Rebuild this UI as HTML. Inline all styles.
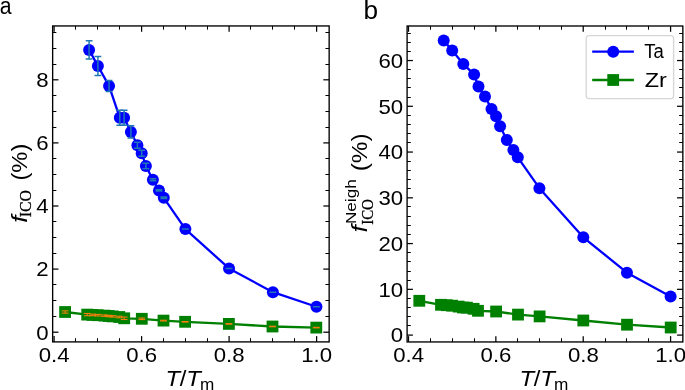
<!DOCTYPE html><html><head><meta charset="utf-8"><style>html,body{margin:0;padding:0;background:#fff;overflow:hidden;}svg{display:block;will-change:transform;}</style></head><body><svg width="685" height="390" viewBox="0 0 685 390">
<rect width="685" height="390" fill="#fff"/>
<defs><clipPath id="cl"><rect x="52.65" y="25.95" width="276.50" height="315.95"/></clipPath><clipPath id="cr"><rect x="407.1" y="26.0" width="275.75" height="315.95"/></clipPath></defs>
<g clip-path="url(#cl)">
<path d="M89.10,49.90 L97.90,66.00 L109.05,85.90 L119.80,117.80 L124.10,117.80 L130.90,131.90 L137.40,145.30 L141.70,153.20 L145.90,166.00 L152.90,179.80 L159.00,190.40 L163.80,197.80 L185.40,229.10 L229.05,268.45 L272.90,292.20 L316.45,306.75" fill="none" stroke="#0000ff" stroke-width="2.3" stroke-linejoin="round" stroke-linecap="butt"/>
<circle cx="89.10" cy="49.90" r="6.0" fill="#0000ff"/>
<circle cx="97.90" cy="66.00" r="6.0" fill="#0000ff"/>
<circle cx="109.05" cy="85.90" r="6.0" fill="#0000ff"/>
<circle cx="119.80" cy="117.80" r="6.0" fill="#0000ff"/>
<circle cx="124.10" cy="117.80" r="6.0" fill="#0000ff"/>
<circle cx="130.90" cy="131.90" r="6.0" fill="#0000ff"/>
<circle cx="137.40" cy="145.30" r="6.0" fill="#0000ff"/>
<circle cx="141.70" cy="153.20" r="6.0" fill="#0000ff"/>
<circle cx="145.90" cy="166.00" r="6.0" fill="#0000ff"/>
<circle cx="152.90" cy="179.80" r="6.0" fill="#0000ff"/>
<circle cx="159.00" cy="190.40" r="6.0" fill="#0000ff"/>
<circle cx="163.80" cy="197.80" r="6.0" fill="#0000ff"/>
<circle cx="185.40" cy="229.10" r="6.0" fill="#0000ff"/>
<circle cx="229.05" cy="268.45" r="6.0" fill="#0000ff"/>
<circle cx="272.90" cy="292.20" r="6.0" fill="#0000ff"/>
<circle cx="316.45" cy="306.75" r="6.0" fill="#0000ff"/>
<path d="M89.10,40.80V59.00M85.70,40.80H92.50M85.70,59.00H92.50" stroke="#1f77b4" stroke-width="1.5" fill="none"/>
<path d="M97.90,56.60V75.40M94.50,56.60H101.30M94.50,75.40H101.30" stroke="#1f77b4" stroke-width="1.5" fill="none"/>
<path d="M109.05,80.40V91.40M105.65,80.40H112.45M105.65,91.40H112.45" stroke="#1f77b4" stroke-width="1.5" fill="none"/>
<path d="M119.80,110.30V125.30M116.40,110.30H123.20M116.40,125.30H123.20" stroke="#1f77b4" stroke-width="1.5" fill="none"/>
<path d="M124.10,110.30V125.30M120.70,110.30H127.50M120.70,125.30H127.50" stroke="#1f77b4" stroke-width="1.5" fill="none"/>
<path d="M130.90,125.70V138.10M127.50,125.70H134.30M127.50,138.10H134.30" stroke="#1f77b4" stroke-width="1.5" fill="none"/>
<path d="M137.40,142.30V148.30M134.00,142.30H140.80M134.00,148.30H140.80" stroke="#1f77b4" stroke-width="1.5" fill="none"/>
<path d="M141.70,150.20V156.20M138.30,150.20H145.10M138.30,156.20H145.10" stroke="#1f77b4" stroke-width="1.5" fill="none"/>
<path d="M145.90,163.20V168.80M142.50,163.20H149.30M142.50,168.80H149.30" stroke="#1f77b4" stroke-width="1.5" fill="none"/>
<path d="M152.90,178.80V180.80M149.50,178.80H156.30M149.50,180.80H156.30" stroke="#1f77b4" stroke-width="1.5" fill="none"/>
<path d="M159.00,189.70V191.10M155.60,189.70H162.40M155.60,191.10H162.40" stroke="#1f77b4" stroke-width="1.5" fill="none"/>
<path d="M163.80,197.10V198.50M160.40,197.10H167.20M160.40,198.50H167.20" stroke="#1f77b4" stroke-width="1.5" fill="none"/>
<path d="M185.40,229.10V229.10M182.00,229.10H188.80M182.00,229.10H188.80" stroke="#1f77b4" stroke-width="1.5" fill="none"/>
<path d="M229.05,268.45V268.45M225.65,268.45H232.45M225.65,268.45H232.45" stroke="#1f77b4" stroke-width="1.5" fill="none"/>
<path d="M272.90,292.20V292.20M269.50,292.20H276.30M269.50,292.20H276.30" stroke="#1f77b4" stroke-width="1.5" fill="none"/>
<path d="M316.45,306.75V306.75M313.05,306.75H319.85M313.05,306.75H319.85" stroke="#1f77b4" stroke-width="1.5" fill="none"/>
<path d="M65.10,312.00 L87.20,314.60 L92.50,314.90 L97.70,315.20 L104.40,315.60 L108.70,316.00 L112.70,316.40 L119.30,317.00 L124.20,318.30 L141.80,318.80 L163.50,320.60 L185.10,321.80 L228.90,323.90 L272.50,326.50 L316.30,327.60" fill="none" stroke="#008000" stroke-width="2.3" stroke-linejoin="round" stroke-linecap="butt"/>
<rect x="59.20" y="306.10" width="11.8" height="11.8" fill="#008000"/>
<rect x="81.30" y="308.70" width="11.8" height="11.8" fill="#008000"/>
<rect x="86.60" y="309.00" width="11.8" height="11.8" fill="#008000"/>
<rect x="91.80" y="309.30" width="11.8" height="11.8" fill="#008000"/>
<rect x="98.50" y="309.70" width="11.8" height="11.8" fill="#008000"/>
<rect x="102.80" y="310.10" width="11.8" height="11.8" fill="#008000"/>
<rect x="106.80" y="310.50" width="11.8" height="11.8" fill="#008000"/>
<rect x="113.40" y="311.10" width="11.8" height="11.8" fill="#008000"/>
<rect x="118.30" y="312.40" width="11.8" height="11.8" fill="#008000"/>
<rect x="135.90" y="312.90" width="11.8" height="11.8" fill="#008000"/>
<rect x="157.60" y="314.70" width="11.8" height="11.8" fill="#008000"/>
<rect x="179.20" y="315.90" width="11.8" height="11.8" fill="#008000"/>
<rect x="223.00" y="318.00" width="11.8" height="11.8" fill="#008000"/>
<rect x="266.60" y="320.60" width="11.8" height="11.8" fill="#008000"/>
<rect x="310.40" y="321.70" width="11.8" height="11.8" fill="#008000"/>
<path d="M65.10,310.85V313.15M61.70,310.85H68.50M61.70,313.15H68.50" stroke="#ff7f0e" stroke-width="1.0" fill="none"/>
<path d="M87.20,313.45V315.75M83.80,313.45H90.60M83.80,315.75H90.60" stroke="#ff7f0e" stroke-width="1.0" fill="none"/>
<path d="M92.50,314.10V315.70M89.10,314.10H95.90M89.10,315.70H95.90" stroke="#ff7f0e" stroke-width="1.0" fill="none"/>
<path d="M97.70,314.40V316.00M94.30,314.40H101.10M94.30,316.00H101.10" stroke="#ff7f0e" stroke-width="1.0" fill="none"/>
<path d="M104.40,314.90V316.30M101.00,314.90H107.80M101.00,316.30H107.80" stroke="#ff7f0e" stroke-width="1.0" fill="none"/>
<path d="M108.70,315.30V316.70M105.30,315.30H112.10M105.30,316.70H112.10" stroke="#ff7f0e" stroke-width="1.0" fill="none"/>
<path d="M112.70,315.70V317.10M109.30,315.70H116.10M109.30,317.10H116.10" stroke="#ff7f0e" stroke-width="1.0" fill="none"/>
<path d="M119.30,316.20V317.80M115.90,316.20H122.70M115.90,317.80H122.70" stroke="#ff7f0e" stroke-width="1.0" fill="none"/>
<path d="M124.20,317.05V319.55M120.80,317.05H127.60M120.80,319.55H127.60" stroke="#ff7f0e" stroke-width="1.0" fill="none"/>
<path d="M141.80,318.00V319.60M138.40,318.00H145.20M138.40,319.60H145.20" stroke="#ff7f0e" stroke-width="1.0" fill="none"/>
<path d="M163.50,320.20V321.00M160.10,320.20H166.90M160.10,321.00H166.90" stroke="#ff7f0e" stroke-width="1.0" fill="none"/>
<path d="M185.10,321.50V322.10M181.70,321.50H188.50M181.70,322.10H188.50" stroke="#ff7f0e" stroke-width="1.0" fill="none"/>
<path d="M228.90,323.60V324.20M225.50,323.60H232.30M225.50,324.20H232.30" stroke="#ff7f0e" stroke-width="1.0" fill="none"/>
<path d="M272.50,326.20V326.80M269.10,326.20H275.90M269.10,326.80H275.90" stroke="#ff7f0e" stroke-width="1.0" fill="none"/>
<path d="M316.30,327.30V327.90M312.90,327.30H319.70M312.90,327.90H319.70" stroke="#ff7f0e" stroke-width="1.0" fill="none"/>
</g>
<g clip-path="url(#cr)">
<path d="M443.70,40.40 L452.20,50.40 L463.30,63.90 L474.10,74.60 L478.50,86.50 L485.00,96.60 L491.50,108.90 L496.10,116.30 L500.10,126.30 L506.80,140.00 L513.40,150.00 L517.80,157.30 L539.40,188.20 L583.30,237.30 L626.95,272.70 L670.60,296.40" fill="none" stroke="#0000ff" stroke-width="2.3" stroke-linejoin="round" stroke-linecap="butt"/>
<circle cx="443.70" cy="40.40" r="6.0" fill="#0000ff"/>
<circle cx="452.20" cy="50.40" r="6.0" fill="#0000ff"/>
<circle cx="463.30" cy="63.90" r="6.0" fill="#0000ff"/>
<circle cx="474.10" cy="74.60" r="6.0" fill="#0000ff"/>
<circle cx="478.50" cy="86.50" r="6.0" fill="#0000ff"/>
<circle cx="485.00" cy="96.60" r="6.0" fill="#0000ff"/>
<circle cx="491.50" cy="108.90" r="6.0" fill="#0000ff"/>
<circle cx="496.10" cy="116.30" r="6.0" fill="#0000ff"/>
<circle cx="500.10" cy="126.30" r="6.0" fill="#0000ff"/>
<circle cx="506.80" cy="140.00" r="6.0" fill="#0000ff"/>
<circle cx="513.40" cy="150.00" r="6.0" fill="#0000ff"/>
<circle cx="517.80" cy="157.30" r="6.0" fill="#0000ff"/>
<circle cx="539.40" cy="188.20" r="6.0" fill="#0000ff"/>
<circle cx="583.30" cy="237.30" r="6.0" fill="#0000ff"/>
<circle cx="626.95" cy="272.70" r="6.0" fill="#0000ff"/>
<circle cx="670.60" cy="296.40" r="6.0" fill="#0000ff"/>
<path d="M419.30,300.80 L441.00,304.80 L446.80,305.20 L452.10,305.70 L458.70,306.60 L463.00,307.50 L467.00,307.70 L473.60,308.80 L478.00,310.80 L496.10,311.50 L518.00,314.60 L539.60,316.40 L583.30,320.50 L627.00,324.70 L670.70,327.50" fill="none" stroke="#008000" stroke-width="2.3" stroke-linejoin="round" stroke-linecap="butt"/>
<rect x="413.40" y="294.90" width="11.8" height="11.8" fill="#008000"/>
<rect x="435.10" y="298.90" width="11.8" height="11.8" fill="#008000"/>
<rect x="440.90" y="299.30" width="11.8" height="11.8" fill="#008000"/>
<rect x="446.20" y="299.80" width="11.8" height="11.8" fill="#008000"/>
<rect x="452.80" y="300.70" width="11.8" height="11.8" fill="#008000"/>
<rect x="457.10" y="301.60" width="11.8" height="11.8" fill="#008000"/>
<rect x="461.10" y="301.80" width="11.8" height="11.8" fill="#008000"/>
<rect x="467.70" y="302.90" width="11.8" height="11.8" fill="#008000"/>
<rect x="472.10" y="304.90" width="11.8" height="11.8" fill="#008000"/>
<rect x="490.20" y="305.60" width="11.8" height="11.8" fill="#008000"/>
<rect x="512.10" y="308.70" width="11.8" height="11.8" fill="#008000"/>
<rect x="533.70" y="310.50" width="11.8" height="11.8" fill="#008000"/>
<rect x="577.40" y="314.60" width="11.8" height="11.8" fill="#008000"/>
<rect x="621.10" y="318.80" width="11.8" height="11.8" fill="#008000"/>
<rect x="664.80" y="321.60" width="11.8" height="11.8" fill="#008000"/>
</g>
<line x1="54.10" y1="341.90" x2="54.10" y2="336.10" stroke="#000" stroke-width="1.25"/>
<line x1="54.10" y1="25.95" x2="54.10" y2="31.75" stroke="#000" stroke-width="1.25"/>
<line x1="141.60" y1="341.90" x2="141.60" y2="336.10" stroke="#000" stroke-width="1.25"/>
<line x1="141.60" y1="25.95" x2="141.60" y2="31.75" stroke="#000" stroke-width="1.25"/>
<line x1="229.10" y1="341.90" x2="229.10" y2="336.10" stroke="#000" stroke-width="1.25"/>
<line x1="229.10" y1="25.95" x2="229.10" y2="31.75" stroke="#000" stroke-width="1.25"/>
<line x1="316.60" y1="341.90" x2="316.60" y2="336.10" stroke="#000" stroke-width="1.25"/>
<line x1="316.60" y1="25.95" x2="316.60" y2="31.75" stroke="#000" stroke-width="1.25"/>
<line x1="75.50" y1="341.90" x2="75.50" y2="338.20" stroke="#000" stroke-width="1.0"/>
<line x1="75.50" y1="25.95" x2="75.50" y2="29.65" stroke="#000" stroke-width="1.0"/>
<line x1="97.50" y1="341.90" x2="97.50" y2="338.20" stroke="#000" stroke-width="1.0"/>
<line x1="97.50" y1="25.95" x2="97.50" y2="29.65" stroke="#000" stroke-width="1.0"/>
<line x1="119.50" y1="341.90" x2="119.50" y2="338.20" stroke="#000" stroke-width="1.0"/>
<line x1="119.50" y1="25.95" x2="119.50" y2="29.65" stroke="#000" stroke-width="1.0"/>
<line x1="163.50" y1="341.90" x2="163.50" y2="338.20" stroke="#000" stroke-width="1.0"/>
<line x1="163.50" y1="25.95" x2="163.50" y2="29.65" stroke="#000" stroke-width="1.0"/>
<line x1="185.50" y1="341.90" x2="185.50" y2="338.20" stroke="#000" stroke-width="1.0"/>
<line x1="185.50" y1="25.95" x2="185.50" y2="29.65" stroke="#000" stroke-width="1.0"/>
<line x1="207.50" y1="341.90" x2="207.50" y2="338.20" stroke="#000" stroke-width="1.0"/>
<line x1="207.50" y1="25.95" x2="207.50" y2="29.65" stroke="#000" stroke-width="1.0"/>
<line x1="250.50" y1="341.90" x2="250.50" y2="338.20" stroke="#000" stroke-width="1.0"/>
<line x1="250.50" y1="25.95" x2="250.50" y2="29.65" stroke="#000" stroke-width="1.0"/>
<line x1="272.50" y1="341.90" x2="272.50" y2="338.20" stroke="#000" stroke-width="1.0"/>
<line x1="272.50" y1="25.95" x2="272.50" y2="29.65" stroke="#000" stroke-width="1.0"/>
<line x1="294.50" y1="341.90" x2="294.50" y2="338.20" stroke="#000" stroke-width="1.0"/>
<line x1="294.50" y1="25.95" x2="294.50" y2="29.65" stroke="#000" stroke-width="1.0"/>
<line x1="52.65" y1="332.20" x2="58.45" y2="332.20" stroke="#000" stroke-width="1.25"/>
<line x1="329.15" y1="332.20" x2="323.35" y2="332.20" stroke="#000" stroke-width="1.25"/>
<line x1="52.65" y1="269.10" x2="58.45" y2="269.10" stroke="#000" stroke-width="1.25"/>
<line x1="329.15" y1="269.10" x2="323.35" y2="269.10" stroke="#000" stroke-width="1.25"/>
<line x1="52.65" y1="206.00" x2="58.45" y2="206.00" stroke="#000" stroke-width="1.25"/>
<line x1="329.15" y1="206.00" x2="323.35" y2="206.00" stroke="#000" stroke-width="1.25"/>
<line x1="52.65" y1="142.90" x2="58.45" y2="142.90" stroke="#000" stroke-width="1.25"/>
<line x1="329.15" y1="142.90" x2="323.35" y2="142.90" stroke="#000" stroke-width="1.25"/>
<line x1="52.65" y1="79.80" x2="58.45" y2="79.80" stroke="#000" stroke-width="1.25"/>
<line x1="329.15" y1="79.80" x2="323.35" y2="79.80" stroke="#000" stroke-width="1.25"/>
<line x1="52.65" y1="316.50" x2="56.35" y2="316.50" stroke="#000" stroke-width="1.0"/>
<line x1="329.15" y1="316.50" x2="325.45" y2="316.50" stroke="#000" stroke-width="1.0"/>
<line x1="52.65" y1="300.50" x2="56.35" y2="300.50" stroke="#000" stroke-width="1.0"/>
<line x1="329.15" y1="300.50" x2="325.45" y2="300.50" stroke="#000" stroke-width="1.0"/>
<line x1="52.65" y1="284.50" x2="56.35" y2="284.50" stroke="#000" stroke-width="1.0"/>
<line x1="329.15" y1="284.50" x2="325.45" y2="284.50" stroke="#000" stroke-width="1.0"/>
<line x1="52.65" y1="253.50" x2="56.35" y2="253.50" stroke="#000" stroke-width="1.0"/>
<line x1="329.15" y1="253.50" x2="325.45" y2="253.50" stroke="#000" stroke-width="1.0"/>
<line x1="52.65" y1="237.50" x2="56.35" y2="237.50" stroke="#000" stroke-width="1.0"/>
<line x1="329.15" y1="237.50" x2="325.45" y2="237.50" stroke="#000" stroke-width="1.0"/>
<line x1="52.65" y1="221.50" x2="56.35" y2="221.50" stroke="#000" stroke-width="1.0"/>
<line x1="329.15" y1="221.50" x2="325.45" y2="221.50" stroke="#000" stroke-width="1.0"/>
<line x1="52.65" y1="190.50" x2="56.35" y2="190.50" stroke="#000" stroke-width="1.0"/>
<line x1="329.15" y1="190.50" x2="325.45" y2="190.50" stroke="#000" stroke-width="1.0"/>
<line x1="52.65" y1="174.50" x2="56.35" y2="174.50" stroke="#000" stroke-width="1.0"/>
<line x1="329.15" y1="174.50" x2="325.45" y2="174.50" stroke="#000" stroke-width="1.0"/>
<line x1="52.65" y1="158.50" x2="56.35" y2="158.50" stroke="#000" stroke-width="1.0"/>
<line x1="329.15" y1="158.50" x2="325.45" y2="158.50" stroke="#000" stroke-width="1.0"/>
<line x1="52.65" y1="127.50" x2="56.35" y2="127.50" stroke="#000" stroke-width="1.0"/>
<line x1="329.15" y1="127.50" x2="325.45" y2="127.50" stroke="#000" stroke-width="1.0"/>
<line x1="52.65" y1="111.50" x2="56.35" y2="111.50" stroke="#000" stroke-width="1.0"/>
<line x1="329.15" y1="111.50" x2="325.45" y2="111.50" stroke="#000" stroke-width="1.0"/>
<line x1="52.65" y1="95.50" x2="56.35" y2="95.50" stroke="#000" stroke-width="1.0"/>
<line x1="329.15" y1="95.50" x2="325.45" y2="95.50" stroke="#000" stroke-width="1.0"/>
<line x1="52.65" y1="64.50" x2="56.35" y2="64.50" stroke="#000" stroke-width="1.0"/>
<line x1="329.15" y1="64.50" x2="325.45" y2="64.50" stroke="#000" stroke-width="1.0"/>
<line x1="52.65" y1="48.50" x2="56.35" y2="48.50" stroke="#000" stroke-width="1.0"/>
<line x1="329.15" y1="48.50" x2="325.45" y2="48.50" stroke="#000" stroke-width="1.0"/>
<line x1="52.65" y1="32.50" x2="56.35" y2="32.50" stroke="#000" stroke-width="1.0"/>
<line x1="329.15" y1="32.50" x2="325.45" y2="32.50" stroke="#000" stroke-width="1.0"/>
<rect x="52.65" y="25.95" width="276.50" height="315.95" fill="none" stroke="#000" stroke-width="1.35"/>
<line x1="408.50" y1="341.95" x2="408.50" y2="336.15" stroke="#000" stroke-width="1.25"/>
<line x1="408.50" y1="26.00" x2="408.50" y2="31.80" stroke="#000" stroke-width="1.25"/>
<line x1="495.86" y1="341.95" x2="495.86" y2="336.15" stroke="#000" stroke-width="1.25"/>
<line x1="495.86" y1="26.00" x2="495.86" y2="31.80" stroke="#000" stroke-width="1.25"/>
<line x1="583.22" y1="341.95" x2="583.22" y2="336.15" stroke="#000" stroke-width="1.25"/>
<line x1="583.22" y1="26.00" x2="583.22" y2="31.80" stroke="#000" stroke-width="1.25"/>
<line x1="670.58" y1="341.95" x2="670.58" y2="336.15" stroke="#000" stroke-width="1.25"/>
<line x1="670.58" y1="26.00" x2="670.58" y2="31.80" stroke="#000" stroke-width="1.25"/>
<line x1="430.50" y1="341.95" x2="430.50" y2="338.25" stroke="#000" stroke-width="1.0"/>
<line x1="430.50" y1="26.00" x2="430.50" y2="29.70" stroke="#000" stroke-width="1.0"/>
<line x1="452.50" y1="341.95" x2="452.50" y2="338.25" stroke="#000" stroke-width="1.0"/>
<line x1="452.50" y1="26.00" x2="452.50" y2="29.70" stroke="#000" stroke-width="1.0"/>
<line x1="474.50" y1="341.95" x2="474.50" y2="338.25" stroke="#000" stroke-width="1.0"/>
<line x1="474.50" y1="26.00" x2="474.50" y2="29.70" stroke="#000" stroke-width="1.0"/>
<line x1="517.50" y1="341.95" x2="517.50" y2="338.25" stroke="#000" stroke-width="1.0"/>
<line x1="517.50" y1="26.00" x2="517.50" y2="29.70" stroke="#000" stroke-width="1.0"/>
<line x1="539.50" y1="341.95" x2="539.50" y2="338.25" stroke="#000" stroke-width="1.0"/>
<line x1="539.50" y1="26.00" x2="539.50" y2="29.70" stroke="#000" stroke-width="1.0"/>
<line x1="561.50" y1="341.95" x2="561.50" y2="338.25" stroke="#000" stroke-width="1.0"/>
<line x1="561.50" y1="26.00" x2="561.50" y2="29.70" stroke="#000" stroke-width="1.0"/>
<line x1="605.50" y1="341.95" x2="605.50" y2="338.25" stroke="#000" stroke-width="1.0"/>
<line x1="605.50" y1="26.00" x2="605.50" y2="29.70" stroke="#000" stroke-width="1.0"/>
<line x1="626.50" y1="341.95" x2="626.50" y2="338.25" stroke="#000" stroke-width="1.0"/>
<line x1="626.50" y1="26.00" x2="626.50" y2="29.70" stroke="#000" stroke-width="1.0"/>
<line x1="648.50" y1="341.95" x2="648.50" y2="338.25" stroke="#000" stroke-width="1.0"/>
<line x1="648.50" y1="26.00" x2="648.50" y2="29.70" stroke="#000" stroke-width="1.0"/>
<line x1="407.10" y1="335.10" x2="412.90" y2="335.10" stroke="#000" stroke-width="1.25"/>
<line x1="682.85" y1="335.10" x2="677.05" y2="335.10" stroke="#000" stroke-width="1.25"/>
<line x1="407.10" y1="289.34" x2="412.90" y2="289.34" stroke="#000" stroke-width="1.25"/>
<line x1="682.85" y1="289.34" x2="677.05" y2="289.34" stroke="#000" stroke-width="1.25"/>
<line x1="407.10" y1="243.58" x2="412.90" y2="243.58" stroke="#000" stroke-width="1.25"/>
<line x1="682.85" y1="243.58" x2="677.05" y2="243.58" stroke="#000" stroke-width="1.25"/>
<line x1="407.10" y1="197.82" x2="412.90" y2="197.82" stroke="#000" stroke-width="1.25"/>
<line x1="682.85" y1="197.82" x2="677.05" y2="197.82" stroke="#000" stroke-width="1.25"/>
<line x1="407.10" y1="152.06" x2="412.90" y2="152.06" stroke="#000" stroke-width="1.25"/>
<line x1="682.85" y1="152.06" x2="677.05" y2="152.06" stroke="#000" stroke-width="1.25"/>
<line x1="407.10" y1="106.30" x2="412.90" y2="106.30" stroke="#000" stroke-width="1.25"/>
<line x1="682.85" y1="106.30" x2="677.05" y2="106.30" stroke="#000" stroke-width="1.25"/>
<line x1="407.10" y1="60.54" x2="412.90" y2="60.54" stroke="#000" stroke-width="1.25"/>
<line x1="682.85" y1="60.54" x2="677.05" y2="60.54" stroke="#000" stroke-width="1.25"/>
<line x1="407.10" y1="325.50" x2="410.80" y2="325.50" stroke="#000" stroke-width="1.0"/>
<line x1="682.85" y1="325.50" x2="679.15" y2="325.50" stroke="#000" stroke-width="1.0"/>
<line x1="407.10" y1="316.50" x2="410.80" y2="316.50" stroke="#000" stroke-width="1.0"/>
<line x1="682.85" y1="316.50" x2="679.15" y2="316.50" stroke="#000" stroke-width="1.0"/>
<line x1="407.10" y1="307.50" x2="410.80" y2="307.50" stroke="#000" stroke-width="1.0"/>
<line x1="682.85" y1="307.50" x2="679.15" y2="307.50" stroke="#000" stroke-width="1.0"/>
<line x1="407.10" y1="298.50" x2="410.80" y2="298.50" stroke="#000" stroke-width="1.0"/>
<line x1="682.85" y1="298.50" x2="679.15" y2="298.50" stroke="#000" stroke-width="1.0"/>
<line x1="407.10" y1="280.50" x2="410.80" y2="280.50" stroke="#000" stroke-width="1.0"/>
<line x1="682.85" y1="280.50" x2="679.15" y2="280.50" stroke="#000" stroke-width="1.0"/>
<line x1="407.10" y1="271.50" x2="410.80" y2="271.50" stroke="#000" stroke-width="1.0"/>
<line x1="682.85" y1="271.50" x2="679.15" y2="271.50" stroke="#000" stroke-width="1.0"/>
<line x1="407.10" y1="261.50" x2="410.80" y2="261.50" stroke="#000" stroke-width="1.0"/>
<line x1="682.85" y1="261.50" x2="679.15" y2="261.50" stroke="#000" stroke-width="1.0"/>
<line x1="407.10" y1="252.50" x2="410.80" y2="252.50" stroke="#000" stroke-width="1.0"/>
<line x1="682.85" y1="252.50" x2="679.15" y2="252.50" stroke="#000" stroke-width="1.0"/>
<line x1="407.10" y1="234.50" x2="410.80" y2="234.50" stroke="#000" stroke-width="1.0"/>
<line x1="682.85" y1="234.50" x2="679.15" y2="234.50" stroke="#000" stroke-width="1.0"/>
<line x1="407.10" y1="225.50" x2="410.80" y2="225.50" stroke="#000" stroke-width="1.0"/>
<line x1="682.85" y1="225.50" x2="679.15" y2="225.50" stroke="#000" stroke-width="1.0"/>
<line x1="407.10" y1="216.50" x2="410.80" y2="216.50" stroke="#000" stroke-width="1.0"/>
<line x1="682.85" y1="216.50" x2="679.15" y2="216.50" stroke="#000" stroke-width="1.0"/>
<line x1="407.10" y1="206.50" x2="410.80" y2="206.50" stroke="#000" stroke-width="1.0"/>
<line x1="682.85" y1="206.50" x2="679.15" y2="206.50" stroke="#000" stroke-width="1.0"/>
<line x1="407.10" y1="188.50" x2="410.80" y2="188.50" stroke="#000" stroke-width="1.0"/>
<line x1="682.85" y1="188.50" x2="679.15" y2="188.50" stroke="#000" stroke-width="1.0"/>
<line x1="407.10" y1="179.50" x2="410.80" y2="179.50" stroke="#000" stroke-width="1.0"/>
<line x1="682.85" y1="179.50" x2="679.15" y2="179.50" stroke="#000" stroke-width="1.0"/>
<line x1="407.10" y1="170.50" x2="410.80" y2="170.50" stroke="#000" stroke-width="1.0"/>
<line x1="682.85" y1="170.50" x2="679.15" y2="170.50" stroke="#000" stroke-width="1.0"/>
<line x1="407.10" y1="161.50" x2="410.80" y2="161.50" stroke="#000" stroke-width="1.0"/>
<line x1="682.85" y1="161.50" x2="679.15" y2="161.50" stroke="#000" stroke-width="1.0"/>
<line x1="407.10" y1="142.50" x2="410.80" y2="142.50" stroke="#000" stroke-width="1.0"/>
<line x1="682.85" y1="142.50" x2="679.15" y2="142.50" stroke="#000" stroke-width="1.0"/>
<line x1="407.10" y1="133.50" x2="410.80" y2="133.50" stroke="#000" stroke-width="1.0"/>
<line x1="682.85" y1="133.50" x2="679.15" y2="133.50" stroke="#000" stroke-width="1.0"/>
<line x1="407.10" y1="124.50" x2="410.80" y2="124.50" stroke="#000" stroke-width="1.0"/>
<line x1="682.85" y1="124.50" x2="679.15" y2="124.50" stroke="#000" stroke-width="1.0"/>
<line x1="407.10" y1="115.50" x2="410.80" y2="115.50" stroke="#000" stroke-width="1.0"/>
<line x1="682.85" y1="115.50" x2="679.15" y2="115.50" stroke="#000" stroke-width="1.0"/>
<line x1="407.10" y1="97.50" x2="410.80" y2="97.50" stroke="#000" stroke-width="1.0"/>
<line x1="682.85" y1="97.50" x2="679.15" y2="97.50" stroke="#000" stroke-width="1.0"/>
<line x1="407.10" y1="87.50" x2="410.80" y2="87.50" stroke="#000" stroke-width="1.0"/>
<line x1="682.85" y1="87.50" x2="679.15" y2="87.50" stroke="#000" stroke-width="1.0"/>
<line x1="407.10" y1="78.50" x2="410.80" y2="78.50" stroke="#000" stroke-width="1.0"/>
<line x1="682.85" y1="78.50" x2="679.15" y2="78.50" stroke="#000" stroke-width="1.0"/>
<line x1="407.10" y1="69.50" x2="410.80" y2="69.50" stroke="#000" stroke-width="1.0"/>
<line x1="682.85" y1="69.50" x2="679.15" y2="69.50" stroke="#000" stroke-width="1.0"/>
<line x1="407.10" y1="51.50" x2="410.80" y2="51.50" stroke="#000" stroke-width="1.0"/>
<line x1="682.85" y1="51.50" x2="679.15" y2="51.50" stroke="#000" stroke-width="1.0"/>
<line x1="407.10" y1="42.50" x2="410.80" y2="42.50" stroke="#000" stroke-width="1.0"/>
<line x1="682.85" y1="42.50" x2="679.15" y2="42.50" stroke="#000" stroke-width="1.0"/>
<line x1="407.10" y1="33.50" x2="410.80" y2="33.50" stroke="#000" stroke-width="1.0"/>
<line x1="682.85" y1="33.50" x2="679.15" y2="33.50" stroke="#000" stroke-width="1.0"/>
<rect x="407.10" y="26.00" width="275.75" height="315.95" fill="none" stroke="#000" stroke-width="1.35"/>
<text transform="translate(54.20,361.75) scale(1.11,1)" text-anchor="middle" font-size="20" font-family="Liberation Sans, sans-serif">0.4</text>
<text transform="translate(141.70,361.75) scale(1.11,1)" text-anchor="middle" font-size="20" font-family="Liberation Sans, sans-serif">0.6</text>
<text transform="translate(229.20,361.75) scale(1.11,1)" text-anchor="middle" font-size="20" font-family="Liberation Sans, sans-serif">0.8</text>
<text transform="translate(316.70,361.75) scale(1.11,1)" text-anchor="middle" font-size="20" font-family="Liberation Sans, sans-serif">1.0</text>
<text transform="translate(48.70,339.50) scale(1.11,1)" text-anchor="end" font-size="20" font-family="Liberation Sans, sans-serif">0</text>
<text transform="translate(48.70,276.40) scale(1.11,1)" text-anchor="end" font-size="20" font-family="Liberation Sans, sans-serif">2</text>
<text transform="translate(48.70,213.30) scale(1.11,1)" text-anchor="end" font-size="20" font-family="Liberation Sans, sans-serif">4</text>
<text transform="translate(48.70,150.20) scale(1.11,1)" text-anchor="end" font-size="20" font-family="Liberation Sans, sans-serif">6</text>
<text transform="translate(48.70,87.10) scale(1.11,1)" text-anchor="end" font-size="20" font-family="Liberation Sans, sans-serif">8</text>
<text transform="translate(408.60,361.75) scale(1.11,1)" text-anchor="middle" font-size="20" font-family="Liberation Sans, sans-serif">0.4</text>
<text transform="translate(495.96,361.75) scale(1.11,1)" text-anchor="middle" font-size="20" font-family="Liberation Sans, sans-serif">0.6</text>
<text transform="translate(583.32,361.75) scale(1.11,1)" text-anchor="middle" font-size="20" font-family="Liberation Sans, sans-serif">0.8</text>
<text transform="translate(670.68,361.75) scale(1.11,1)" text-anchor="middle" font-size="20" font-family="Liberation Sans, sans-serif">1.0</text>
<text transform="translate(403.15,342.40) scale(1.11,1)" text-anchor="end" font-size="20" font-family="Liberation Sans, sans-serif">0</text>
<text transform="translate(403.15,296.64) scale(1.11,1)" text-anchor="end" font-size="20" font-family="Liberation Sans, sans-serif">10</text>
<text transform="translate(403.15,250.88) scale(1.11,1)" text-anchor="end" font-size="20" font-family="Liberation Sans, sans-serif">20</text>
<text transform="translate(403.15,205.12) scale(1.11,1)" text-anchor="end" font-size="20" font-family="Liberation Sans, sans-serif">30</text>
<text transform="translate(403.15,159.36) scale(1.11,1)" text-anchor="end" font-size="20" font-family="Liberation Sans, sans-serif">40</text>
<text transform="translate(403.15,113.60) scale(1.11,1)" text-anchor="end" font-size="20" font-family="Liberation Sans, sans-serif">50</text>
<text transform="translate(403.15,67.84) scale(1.11,1)" text-anchor="end" font-size="20" font-family="Liberation Sans, sans-serif">60</text>
<rect x="586.2" y="35.6" width="87.4" height="63.0" rx="3.2" ry="3.2" fill="#fff" fill-opacity="0.8" stroke="#cccccc" stroke-opacity="0.8" stroke-width="1.3"/>
<line x1="592.2" y1="51.6" x2="633.9" y2="51.6" stroke="#0000ff" stroke-width="2.3"/>
<circle cx="613.2" cy="51.65" r="6.0" fill="#0000ff"/>
<line x1="592.2" y1="80.0" x2="633.9" y2="80.0" stroke="#008000" stroke-width="2.3"/>
<rect x="607.30" y="74.10" width="11.8" height="11.8" fill="#008000"/>
<g transform="translate(-0.130,13.666) scale(0.8302,0.9357)"><text x="0" y="0" font-size="25.6" font-family="Liberation Sans, sans-serif">a</text></g>
<g transform="translate(363.380,18.653) scale(1.0400,0.9892)"><text x="0" y="0" font-size="25.2" font-family="Liberation Sans, sans-serif">b</text></g>
<g transform="translate(644.137,58.245) scale(0.9268,1.0214)"><text x="0" y="0" font-size="20" font-family="Liberation Sans, sans-serif">Ta</text></g>
<g transform="translate(644.721,87.200) scale(1.1718,1.0327)"><text x="0" y="0" font-size="20" font-family="Liberation Sans, sans-serif">Zr</text></g>
<g transform="translate(165.462,386.147) scale(1.0391,0.9580)"><text x="0" y="0" font-size="23" font-family="Liberation Sans, sans-serif"><tspan font-style="italic">T</tspan><tspan dx="-0.3">/</tspan><tspan font-style="italic" dx="-0.2">T</tspan><tspan font-size="16.5" dy="3.6" dx="-0.8">m</tspan></text></g>
<g transform="translate(519.452,386.147) scale(1.0437,0.9580)"><text x="0" y="0" font-size="23" font-family="Liberation Sans, sans-serif"><tspan font-style="italic">T</tspan><tspan dx="-0.3">/</tspan><tspan font-style="italic" dx="-0.2">T</tspan><tspan font-size="16.5" dy="3.6" dx="-0.8">m</tspan></text></g>
<g transform="translate(27.000,222.679) rotate(-90) scale(1.1724,1.0063)"><text x="0" y="0" font-size="22" font-family="Liberation Sans, sans-serif" font-style="italic">f</text></g>
<g transform="translate(30.555,217.264) rotate(-90) scale(0.9274,0.9787)"><text x="0" y="0" font-size="17" font-family="Liberation Serif, serif" stroke="#000" stroke-width="0.3">ICO</text></g>
<g transform="translate(26.824,180.549) rotate(-90) scale(1.0794,1.0390)"><text x="0" y="0" font-size="22" font-family="Liberation Sans, sans-serif">(%)</text></g>
<g transform="translate(367.100,232.390) rotate(-90) scale(1.1862,1.0312)"><text x="0" y="0" font-size="22" font-family="Liberation Sans, sans-serif" font-style="italic">f</text></g>
<g transform="translate(373.455,224.839) rotate(-90) scale(0.8779,0.9787)"><text x="0" y="0" font-size="17" font-family="Liberation Serif, serif" stroke="#000" stroke-width="0.3">ICO</text></g>
<g transform="translate(356.049,224.039) rotate(-90) scale(1.0709,0.9695)"><text x="0" y="0" font-size="16" font-family="Liberation Sans, sans-serif">Neigh</text></g>
<g transform="translate(367.156,171.289) rotate(-90) scale(1.1111,1.0098)"><text x="0" y="0" font-size="22" font-family="Liberation Sans, sans-serif">(%)</text></g>
</svg></body></html>
